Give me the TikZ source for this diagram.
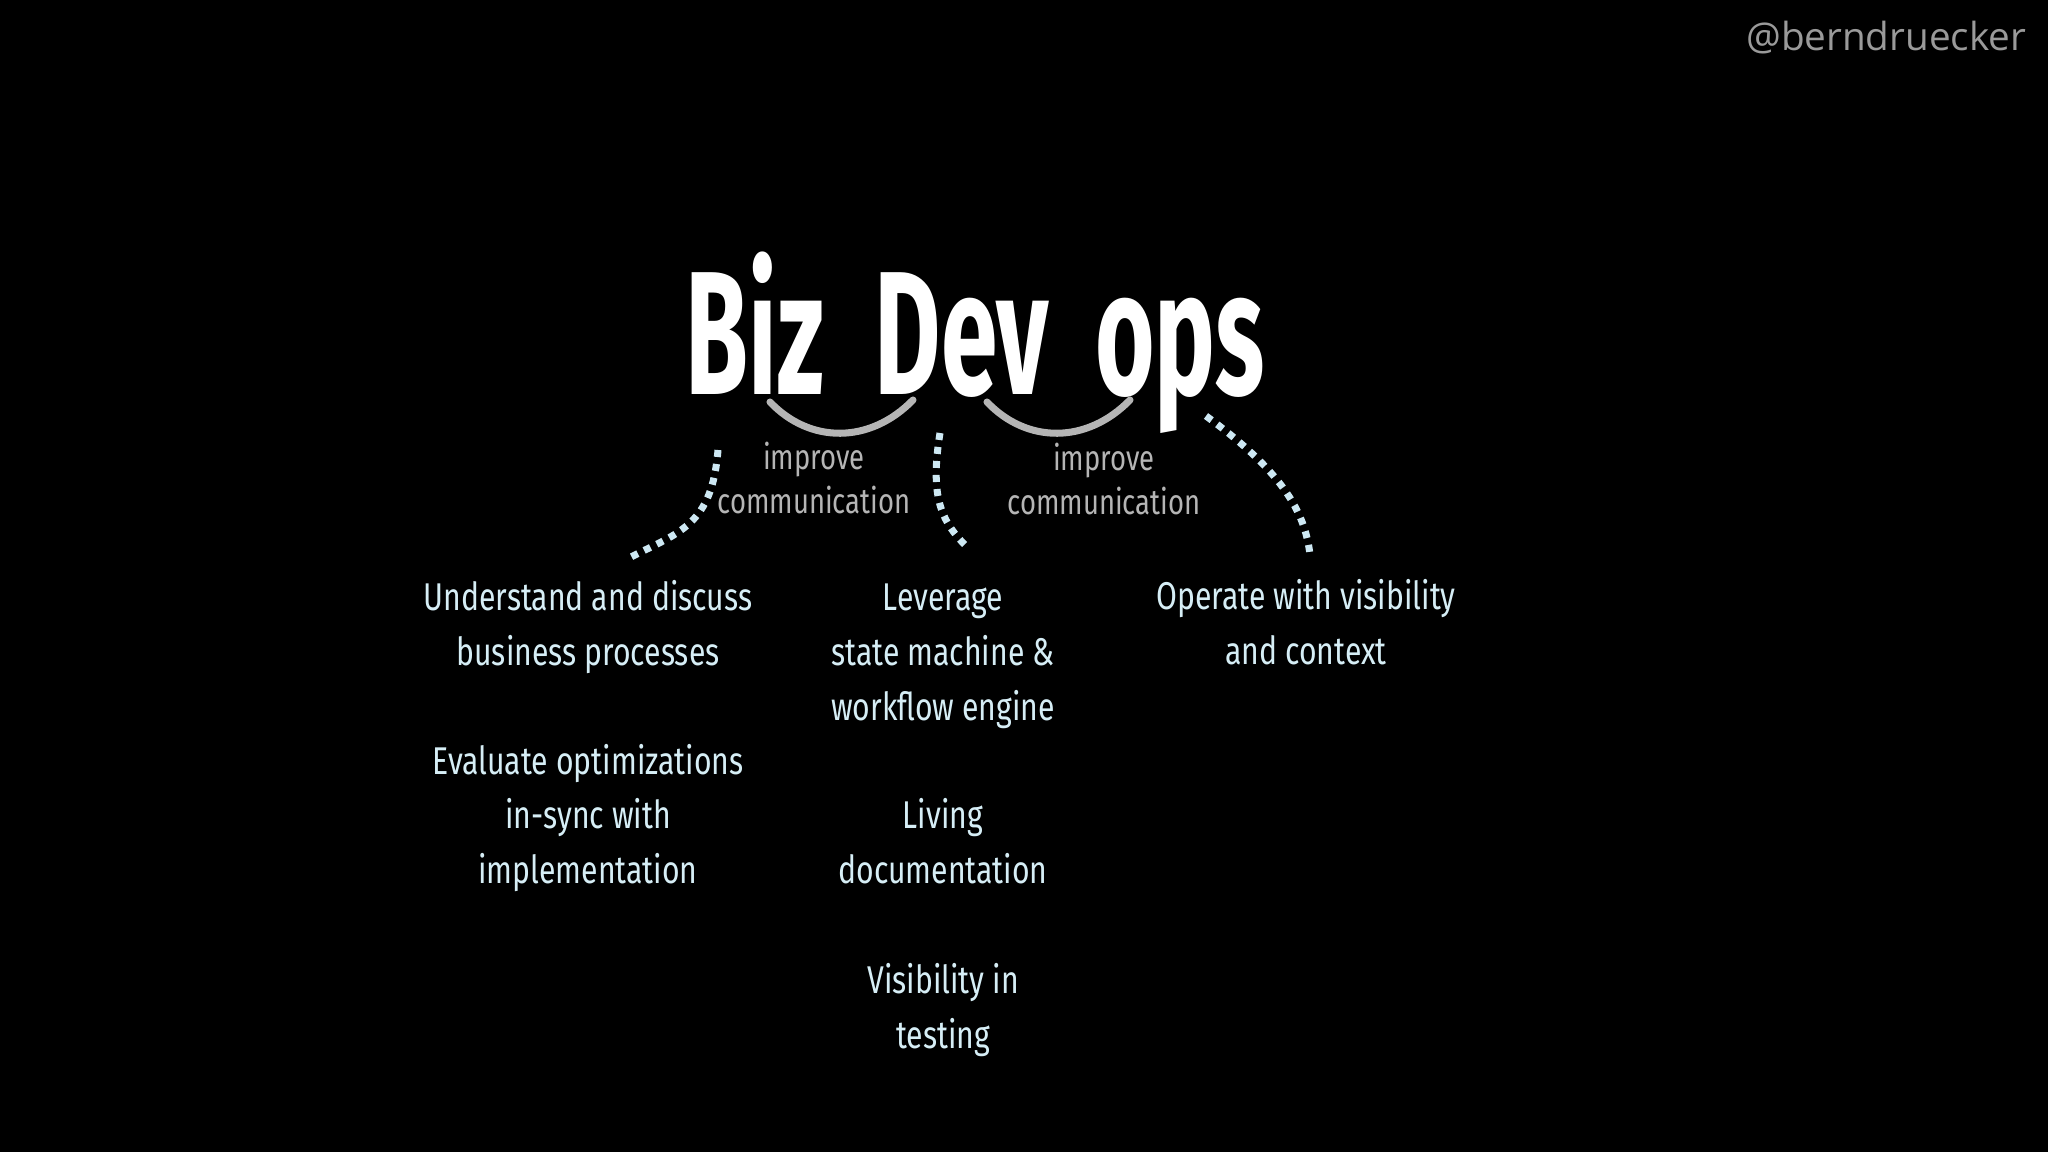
\documentclass[tikz,border=0pt]{standalone}
\usepackage{fontspec}
\setmainfont{Fira Sans}
\newfontfamily\handfont[FakeStretch=0.78]{Fira Sans}
\newfontfamily\bigfont[FakeStretch=0.58]{Fira Sans}
\newfontfamily\tagfont{Open Sans}
\definecolor{chalkblue}{HTML}{D6EEF6}
\definecolor{dotblue}{HTML}{CDE8F3}
\definecolor{smilegray}{HTML}{B5B5B5}
\definecolor{taggray}{HTML}{9A9A9A}

\begin{document}
\begin{tikzpicture}[
      x=0.01cm, y=-0.01cm,
      word/.style={text=white, font=\bigfont\bfseries\fontsize{50}{54}\selectfont, anchor=base, inner sep=0pt},
      note/.style={text=smilegray, align=center, font=\handfont\fontsize{10}{12.5}\selectfont},
      item/.style={text=chalkblue, align=center, font=\handfont\fontsize{11}{15.6}\selectfont},
      smile/.style={draw=smilegray, line width=2pt, line cap=round},
      dotted link/.style={draw=dotblue, line width=2pt, dash pattern=on 2pt off 2pt}
    ]
    \fill[black] (0,0) rectangle (2048,1152);

    % Title words
    \node (biz) [word] at (755,395) {Biz};
    \node (dev) [word] at (962,395) {Dev};
    \node (ops) [word] at (1180,395) {ops};
    \node (handle) [anchor=base east, inner sep=0pt, text=taggray, font=\tagfont\fontsize{11}{14}\selectfont] at (2027,51) {@berndruecker};

    % Smiles between the words
    \coordinate (bizdevl) at (770,402);
    \coordinate (bizdevr) at (913,400);
    \coordinate (devopsl) at (987,402);
    \coordinate (devopsr) at (1130,400);
    \draw[smile] (bizdevl) .. controls (810,444) and (870,444) .. (bizdevr);
    \draw[smile] (devopsl) .. controls (1027,444) and (1087,444) .. (devopsr);
    \node (bizdevnote) [note] at (814,478) {improve\\communication};
    \node (devopsnote) [note] at (1104,479) {improve\\communication};

    % What each part gives
    \node (understand) [item] at (588,627) {Understand and discuss\\business processes};
    \node (evaluate) [item] at (588,818) {Evaluate optimizations\\in-sync with\\implementation};
    \node (leverage) [item] at (943,656) {Leverage\\state machine \&\\workflow engine};
    \node (living) [item] at (943,841) {Living\\documentation};
    \node (testing) [item] at (943,1010) {Visibility in\\testing};
    \node (operate) [item] at (1306,622) {Operate with visibility\\and context};

    % Dotted links from the words
    \coordinate (bizfoot) at (718,450);
    \coordinate (bizend) at (631,557);
    \coordinate (devfoot) at (940,433);
    \coordinate (devend) at (966,546);
    \coordinate (opsfoot) at (1206,416);
    \coordinate (opsend) at (1310,555);
    \draw[dotted link] (bizfoot) .. controls (712,525) and (680,532) .. (bizend);
    \draw[dotted link] (devfoot) .. controls (930,495) and (940,520) .. (devend);
    \draw[dotted link] (opsfoot) .. controls (1280,470) and (1305,510) .. (opsend);
  \end{tikzpicture}
\end{document}
